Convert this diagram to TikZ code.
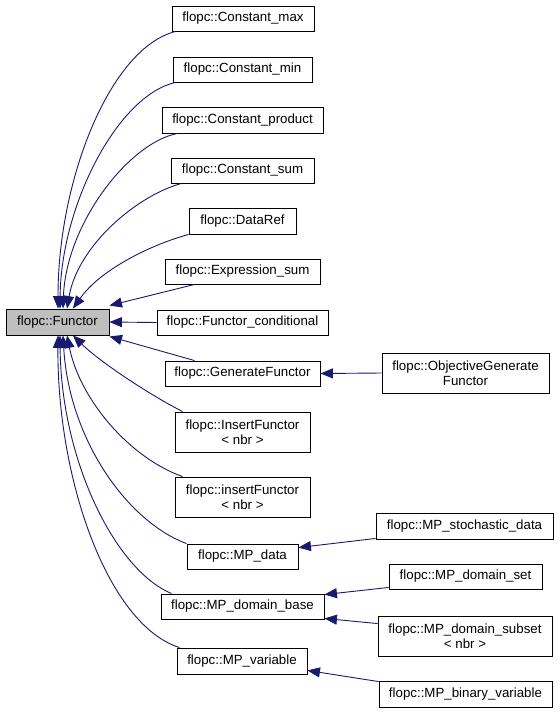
\documentclass[tikz,border=0pt]{standalone}
\usepackage{fontspec}
\setmainfont{Liberation Sans}
\usetikzlibrary{arrows.meta}
\definecolor{edgeblue}{HTML}{191970}
\definecolor{rootgray}{HTML}{BFBFBF}
\begin{document}
\begin{tikzpicture}[x=1pt,y=-1pt,
  box/.style={draw=black,line width=0.9pt,fill=white,inner sep=0pt,align=center,
    font=\fontsize{13.3}{15.5}\selectfont},
  edge/.style={draw=edgeblue,line width=0.9pt,-{Triangle[length=12.5pt,width=10pt,fill=edgeblue]}}]
\useasboundingbox (0,0) rectangle (560,713);
% nodes
\node[box,fill=rootgray,minimum width=103pt,minimum height=26pt] (functor) at (57.5,322) {flopc::Functor};
\node[box,minimum width=142pt,minimum height=25pt] (cmax) at (243,18.5) {flopc::Constant\_max};
\node[box,minimum width=139pt,minimum height=25pt] (cmin) at (242.5,69.5) {flopc::Constant\_min};
\node[box,minimum width=161pt,minimum height=26pt] (cprod) at (242.5,120) {flopc::Constant\_product};
\node[box,minimum width=143pt,minimum height=25pt] (csum) at (242.5,170.5) {flopc::Constant\_sum};
\node[box,minimum width=107pt,minimum height=26pt] (dataref) at (242.5,221) {flopc::DataRef};
\node[box,minimum width=155pt,minimum height=25pt] (exprsum) at (242.5,271.5) {flopc::Expression\_sum};
\node[box,minimum width=171pt,minimum height=25pt] (fcond) at (242.5,322.5) {flopc::Functor\_conditional};
\node[box,minimum width=155pt,minimum height=25pt] (genf) at (242.5,373.5) {flopc::GenerateFunctor};
\node[box,minimum width=167pt,minimum height=40pt] (objgen) at (465.5,373) {flopc::ObjectiveGenerate\\Functor};
\node[box,minimum width=135pt,minimum height=40pt] (insF) at (242.5,432) {flopc::InsertFunctor\\< nbr >};
\node[box,minimum width=135pt,minimum height=40pt] (insf) at (242.5,497) {flopc::insertFunctor\\< nbr >};
\node[box,minimum width=177pt,minimum height=26pt] (mpstoch) at (464.5,526) {flopc::MP\_stochastic\_data};
\node[box,minimum width=111pt,minimum height=25pt] (mpdata) at (242.5,556.5) {flopc::MP\_data};
\node[box,minimum width=153pt,minimum height=25pt] (mpdset) at (465.5,576.5) {flopc::MP\_domain\_set};
\node[box,minimum width=163pt,minimum height=25pt] (mpdbase) at (242.5,606.5) {flopc::MP\_domain\_base};
\node[box,minimum width=174pt,minimum height=40pt] (mpdsub) at (465,636) {flopc::MP\_domain\_subset\\< nbr >};
\node[box,minimum width=130pt,minimum height=26pt] (mpvar) at (242,661) {flopc::MP\_variable};
\node[box,minimum width=173pt,minimum height=26pt] (mpbin) at (465.5,694) {flopc::MP\_binary\_variable};
% edges to Functor (upper)
\draw[edge] ([xshift=4pt]cmax.south west) .. controls (110,48) and (58,180) .. ([xshift=0.5pt]functor.north);
\draw[edge] ([xshift=3pt]cmin.south west) .. controls (118,95) and (61,205) .. ([xshift=2.5pt]functor.north);
\draw[edge] ([xshift=16pt]cprod.south west) .. controls (128,143) and (66,225) .. ([xshift=5.5pt]functor.north);
\draw[edge] ([xshift=11pt]csum.south west) .. controls (138,195) and (78,245) .. ([xshift=9.5pt]functor.north);
\draw[edge] (dataref.south west) .. controls (150,245) and (100,270) .. ([xshift=15.5pt]functor.north);
\draw[edge] ([xshift=30pt]exprsum.south west) -- ([yshift=3pt]functor.north east);
\draw[edge] (fcond.west) -- (functor.east);
\draw[edge] ([xshift=30pt]genf.north west) -- ([yshift=-1pt]functor.south east);
% edges to Functor (lower)
\draw[edge] ([xshift=8pt]insF.north west) .. controls (150,395) and (100,362) .. ([xshift=15.5pt]functor.south);
\draw[edge] ([xshift=8pt]insf.north west) .. controls (130,458) and (80,400) .. ([xshift=9.5pt]functor.south);
\draw[edge] (mpdata.north west) .. controls (128,522) and (69,440) .. ([xshift=5.5pt]functor.south);
\draw[edge] ([xshift=11pt]mpdbase.north west) .. controls (115,570) and (61,460) .. ([xshift=2.5pt]functor.south);
\draw[edge] ([xshift=3pt]mpvar.north west) .. controls (108,625) and (57,480) .. ([xshift=0.5pt]functor.south);
% other edges
\draw[edge] (objgen.west) -- (genf.east);
\draw[edge] ([yshift=1pt]mpstoch.south west) -- ([yshift=-4pt]mpdata.north east);
\draw[edge] ([yshift=2pt]mpdset.south west) -- ([yshift=-1pt]mpdbase.north east);
\draw[edge] ([yshift=-8pt]mpdsub.north west) -- ([yshift=1pt]mpdbase.south east);
\draw[edge] ([yshift=-1pt]mpbin.north west) -- ([yshift=4pt]mpvar.south east);
\end{tikzpicture}
\end{document}
